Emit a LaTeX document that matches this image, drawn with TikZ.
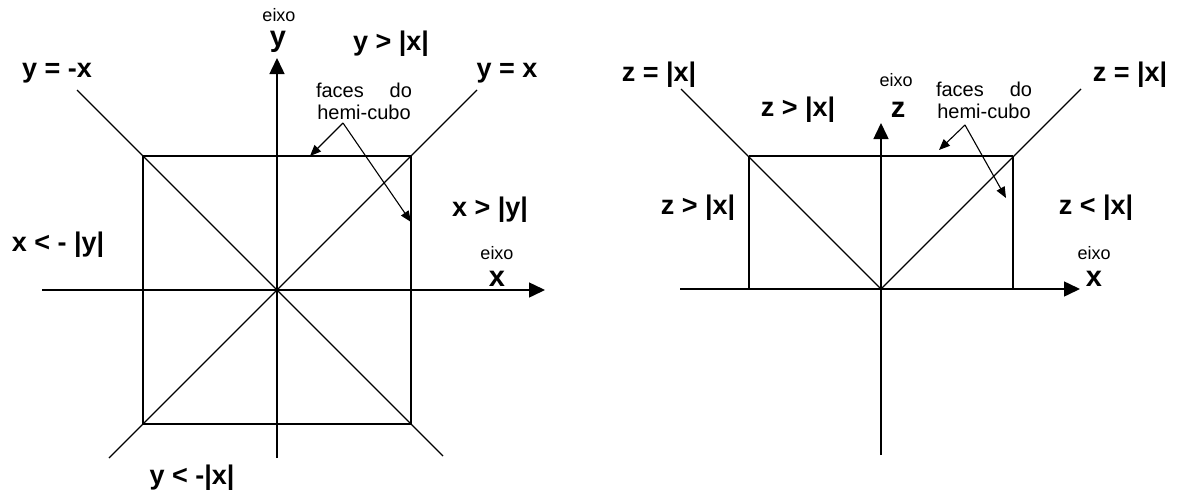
\documentclass[tikz,border=0pt]{standalone}
\usepackage{fontspec}
\setmainfont{Liberation Sans}
\usetikzlibrary{arrows.meta, positioning}

\begin{document}
\begin{tikzpicture}[
    x=1pt, y=-1pt,
    every node/.style={inner sep=0pt, align=center},
    region/.style={font=\fontsize{27}{29}\selectfont\bfseries},
    axislabel/.style={font=\fontsize{29}{30}\selectfont\bfseries},
    small/.style={font=\fontsize{18}{19}\selectfont},
    note/.style={font=\fontsize{20}{22}\selectfont, text width=96pt},
    thin/.style={line width=1.2pt},
    face/.style={line width=1.8pt},
    axis/.style={line width=1.5pt, -{Triangle[length=16pt,width=15pt]}},
    pointer/.style={line width=1.1pt, -{Triangle[length=11pt,width=9pt]}}
]
\useasboundingbox (0,0) rectangle (1178,493);

% Left: full hemi-cube seen from above
\coordinate (o1) at (277,290);
\coordinate (ybot) at (277,458);
\coordinate (ytop) at (277,58);
\coordinate (xl1) at (42,290);
\coordinate (xr1) at (545,290);
\coordinate (tl1) at (143,156);
\coordinate (tr1) at (411,156);
\coordinate (bl1) at (143,424);
\coordinate (br1) at (411,424);
\coordinate (d1a) at (77,90);
\coordinate (d1b) at (443,456);
\coordinate (d2a) at (477,90);
\coordinate (d2b) at (109,458);

\draw[thin] (tl1) -- (bl1) -- (br1) -- (tr1);
\draw[face] (tl1) -- (tr1);
\draw[thin] (d1a) -- (d1b);
\draw[thin] (d2a) -- (d2b);
\draw[axis] (ybot) -- (ytop);
\draw[axis] (xl1) -- (xr1);

\node[axislabel] (ylab) at (278,42) {y};
\node[small] (yeixo) at (279,15) {eixo};
\node[axislabel] (xlab1) at (497,279) {x};
\node[small] (xeixo1) at (497,253) {eixo};
\node[region] (ygt) at (391,44) {y > |x|};
\node[region] (ymx) at (57,73) {y = -x};
\node[region] (yx) at (507,73) {y = x};
\node[region] (xgt) at (490,210) {x > |y|};
\node[region] (xlt) at (58,245) {x < - |y|};
\node[region] (ylt) at (192,478) {y < -|x|};
\node[note] (faces1) at (364,101) {faces\hfill do\\hemi-cubo};

\coordinate (fork1) at (343,123);
\coordinate (top1) at (310,156);
\coordinate (side1) at (411,222);
\draw[pointer] (fork1) -- (top1);
\draw[pointer] (fork1) -- (side1);

% Right: half hemi-cube seen from the side
\coordinate (o2) at (881,289);
\coordinate (zbot) at (881,455);
\coordinate (ztop) at (881,123);
\coordinate (xl2) at (680,289);
\coordinate (xr2) at (1080,289);
\coordinate (tl2) at (749,156);
\coordinate (tr2) at (1013,156);
\coordinate (bl2) at (749,289);
\coordinate (br2) at (1013,289);
\coordinate (d3a) at (681,89);
\coordinate (d3b) at (1081,89);

\draw[thin] (bl2) -- (tl2);
\draw[thin] (br2) -- (tr2);
\draw[face] (tl2) -- (tr2);
\draw[thin] (d3a) -- (o2) -- (d3b);
\draw[axis] (zbot) -- (ztop);
\draw[axis] (xl2) -- (xr2);

\node[axislabel] (zlab) at (898,110) {z};
\node[small] (zeixo) at (896,80) {eixo};
\node[axislabel] (xlab2) at (1094,279) {x};
\node[small] (xeixo2) at (1094,253) {eixo};
\node[region] (zeq1) at (659,75) {z = |x|};
\node[region] (zeq2) at (1130,75) {z = |x|};
\node[region] (zgt1) at (798,110) {z > |x|};
\node[region] (zgt2) at (698,208) {z > |x|};
\node[region] (zlt) at (1096,208) {z < |x|};
\node[note] (faces2) at (984,100) {faces\hfill do\\hemi-cubo};

\coordinate (fork2) at (965,125);
\coordinate (top2) at (939,150);
\coordinate (side2) at (1006,198);
\draw[pointer] (fork2) -- (top2);
\draw[pointer] (fork2) -- (side2);

\end{tikzpicture}
\end{document}
